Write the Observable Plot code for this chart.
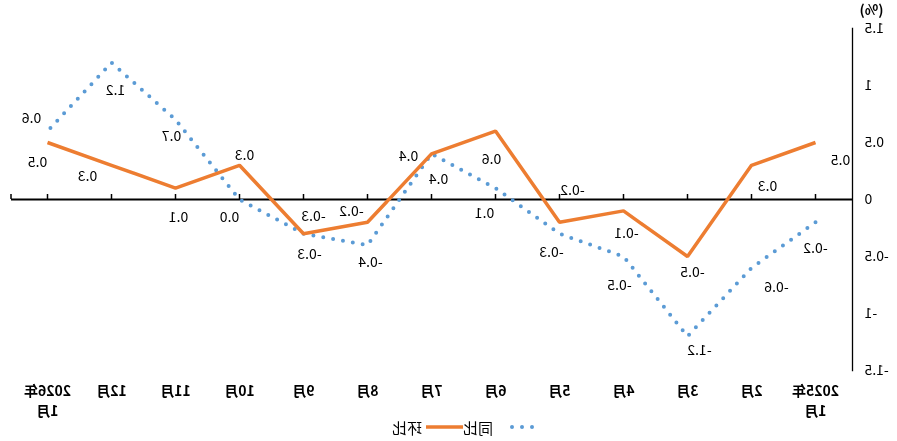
<!DOCTYPE html>
<html>
<head>
<meta charset="utf-8">
<script src="https://cdn.jsdelivr.net/npm/d3@7"></script>
<script src="https://cdn.jsdelivr.net/npm/@observablehq/plot@0.6"></script>
<style>
  html, body { margin: 0; padding: 0; background: #fff; overflow: hidden; }
  #wrap { width: 897px; height: 441px; transform: scaleX(-1); transform-origin: center; font-family: "Noto Sans CJK SC", "Noto Sans", sans-serif; color: #000; }
  #chart svg { display: block; }
  #legend { height: 14px; display: flex; align-items: center; padding-left: 362px; font-size: 15px; }
  #legend span { line-height: 1; }
</style>
</head>
<body>
<div id="wrap">
  <div id="chart"></div>
  <div id="legend"></div>
</div>
<script>
const months = ["2025年1月","2月","3月","4月","5月","6月","7月","8月","9月","10月","11月","12月","2026年1月"];
const xTickLabels = ["2025年\n1月","2月","3月","4月","5月","6月","7月","8月","9月","10月","11月","12月","2026年\n1月"];
const huanbi = [0.5, 0.3, -0.5, -0.1, -0.2, 0.6, 0.4, -0.2, -0.3, 0.3, 0.1, 0.3, 0.5];
const tongbi = [-0.2, -0.6, -1.2, -0.5, -0.3, 0.1, 0.4, -0.4, -0.3, 0.0, 0.7, 1.2, 0.6];
const yTicks = [-1.5, -1, -0.5, 0, 0.5, 1, 1.5];
const seriesNames = ["同比", "环比"];

// label offsets (px) relative to each point
const huanbiLabelOffset = [[-25,18],[-16,21],[-5,16],[-3,23],[-13,-32],[4,28],[23,3],[16,-11],[-10,-17],[-5,-10],[-3,29],[24,11],[10,20]];
const tongbiLabelOffset = [[0,26],[-25,20],[-12,14],[4,29],[8,19],[11,25],[-7,26],[-3,17],[-6,21],[10,18],[4,17],[-4,28],[16,-13]];

const orange = "#ED7D31";
const blue = "#5B9BD5";

const hb = months.map((m, i) => ({month: m, value: huanbi[i]}));
const tb = months.map((m, i) => ({month: m, value: tongbi[i]}));
const fmt = v => v.toFixed(1);

const labelMarks = [];
hb.forEach((d, i) => labelMarks.push(Plot.text([d], {x: "month", y: "value", text: r => fmt(r.value), dx: huanbiLabelOffset[i][0], dy: huanbiLabelOffset[i][1], fontSize: 14, fill: "#000"})));
tb.forEach((d, i) => labelMarks.push(Plot.text([d], {x: "month", y: "value", text: r => fmt(r.value), dx: tongbiLabelOffset[i][0], dy: tongbiLabelOffset[i][1], fontSize: 14, fill: "#000"})));

const endTick = (index, scales, values, dims) => {
  const g = document.createElementNS("http://www.w3.org/2000/svg", "line");
  const xe = dims.width - dims.marginRight;
  const y0 = scales.y(0);
  g.setAttribute("x1", xe); g.setAttribute("x2", xe);
  g.setAttribute("y1", y0 - 5); g.setAttribute("y2", y0);
  g.setAttribute("stroke", "#000"); g.setAttribute("stroke-width", 1.5);
  return g;
};

const plot = Plot.plot({
  width: 897,
  height: 420,
  marginLeft: 44,
  marginRight: 11,
  marginTop: 28,
  marginBottom: 50,
  style: {fontFamily: '"Noto Sans CJK SC", "Noto Sans", sans-serif', color: "#000", background: "#fff"},
  x: {type: "point", domain: months, padding: 0.5, axis: null},
  y: {domain: [-1.5, 1.5], axis: null},
  marks: [
    Plot.axisY({ticks: yTicks, tickSize: 0, tickPadding: 12, tickFormat: d => String(d), fontSize: 14, label: null}),
    Plot.frame({anchor: "left", stroke: "#000", strokeWidth: 1.3}),
    Plot.ruleY([0], {stroke: "#000", strokeWidth: 1.8}),
    Plot.ruleX(months, {x: d => d, y1: 0, y2: 0, insetTop: -5, stroke: "#000", strokeWidth: 1.5}),
    endTick,
    Plot.text(months, {x: d => d, frameAnchor: "bottom", text: (d, i) => xTickLabels[i], lineAnchor: "top", dy: 11, fontSize: 14, fontWeight: "bold", lineHeight: 1.43, fill: "#000"}),
    Plot.text(["(%)"], {frameAnchor: "top-left", textAnchor: "middle", lineAnchor: "middle", dx: -19, dy: -18, fontSize: 14, fontWeight: "bold", fill: "#000"}),
    Plot.line(tb, {x: "month", y: "value", stroke: blue, strokeWidth: 4, strokeDasharray: "0 10", strokeLinecap: "round"}),
    Plot.line(hb, {x: "month", y: "value", stroke: orange, strokeWidth: 3.5, strokeLinejoin: "miter", strokeLinecap: "butt"}),
    ...labelMarks
  ]
});
document.getElementById("chart").appendChild(plot);

const legend = document.getElementById("legend");
legend.innerHTML =
  `<svg width="36" height="10"><line x1="3" x2="33" y1="5" y2="5" stroke="${blue}" stroke-width="4" stroke-dasharray="0 10" stroke-linecap="round"/></svg>` +
  `<span style="margin-left:6px">${seriesNames[0]}</span>` +
  `<svg width="37" height="10"><line x1="0" x2="37" y1="5" y2="5" stroke="${orange}" stroke-width="3.5"/></svg>` +
  `<span style="margin-left:4px">${seriesNames[1]}</span>`;
</script>
</body>
</html>
